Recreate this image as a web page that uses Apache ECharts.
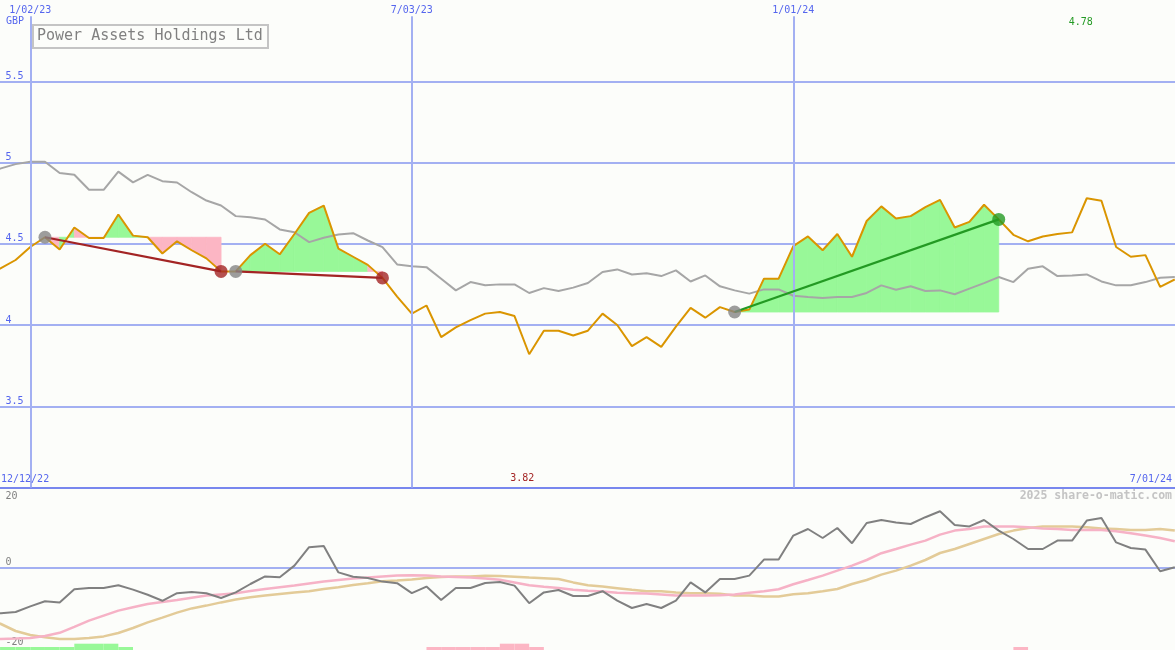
<!DOCTYPE html>
<html><head><meta charset="utf-8">
<script src="https://cdn.jsdelivr.net/npm/echarts@6/dist/echarts.min.js"></script>
<style>html,body{margin:0;padding:0;background:#fcfdfa}#c{width:1175px;height:650px}</style>
</head><body><div id="c"></div><script>
// ---------- DATA ----------
const dates = ['2022-12-12','2022-12-19','2022-12-26','2023-01-02','2023-01-09','2023-01-16','2023-01-23','2023-01-30','2023-02-06','2023-02-13','2023-02-20','2023-02-27','2023-03-06','2023-03-13','2023-03-20','2023-03-27','2023-04-03','2023-04-10','2023-04-17','2023-04-24','2023-05-01','2023-05-08','2023-05-15','2023-05-22','2023-05-29','2023-06-05','2023-06-12','2023-06-19','2023-06-26','2023-07-03','2023-07-10','2023-07-17','2023-07-24','2023-07-31','2023-08-07','2023-08-14','2023-08-21','2023-08-28','2023-09-04','2023-09-11','2023-09-18','2023-09-25','2023-10-02','2023-10-09','2023-10-16','2023-10-23','2023-10-30','2023-11-06','2023-11-13','2023-11-20','2023-11-27','2023-12-04','2023-12-11','2023-12-18','2023-12-25','2024-01-01','2024-01-08','2024-01-15','2024-01-22','2024-01-29','2024-02-05','2024-02-12','2024-02-19','2024-02-26','2024-03-04','2024-03-11','2024-03-18','2024-03-25','2024-04-01','2024-04-08','2024-04-15','2024-04-22','2024-04-29','2024-05-06','2024-05-13','2024-05-20','2024-05-27','2024-06-03','2024-06-10','2024-06-17','2024-06-24','2024-07-01'];
const price = [4.30,4.35,4.40,4.48,4.54,4.465,4.60,4.535,4.535,4.68,4.55,4.54,4.44,4.515,4.46,4.41,4.33,4.33,4.43,4.50,4.435,4.56,4.69,4.735,4.47,4.42,4.37,4.29,4.175,4.07,4.12,3.925,3.985,4.03,4.07,4.08,4.055,3.82,3.965,3.965,3.935,3.965,4.07,4.00,3.87,3.925,3.865,3.99,4.105,4.045,4.11,4.08,4.095,4.285,4.285,4.485,4.545,4.46,4.56,4.42,4.64,4.73,4.655,4.67,4.725,4.77,4.60,4.635,4.74,4.65,4.555,4.515,4.545,4.56,4.57,4.78,4.765,4.48,4.42,4.43,4.235,4.28];
const average = [4.93,4.964,4.99,5.005,5.005,4.935,4.925,4.832,4.832,4.944,4.878,4.924,4.885,4.877,4.817,4.766,4.735,4.67,4.663,4.649,4.588,4.571,4.51,4.537,4.557,4.565,4.52,4.479,4.373,4.362,4.356,4.285,4.213,4.264,4.244,4.25,4.25,4.197,4.227,4.209,4.23,4.258,4.326,4.342,4.311,4.319,4.301,4.336,4.268,4.305,4.238,4.213,4.193,4.219,4.219,4.18,4.172,4.166,4.172,4.172,4.197,4.244,4.217,4.238,4.209,4.213,4.189,4.224,4.258,4.295,4.264,4.346,4.361,4.301,4.305,4.311,4.268,4.244,4.244,4.264,4.291,4.295];
const momentum = [-11.5,-11.3,-11.0,-9.6,-8.3,-8.6,-5.3,-5.0,-5.0,-4.3,-5.4,-6.7,-8.2,-6.3,-6.0,-6.3,-7.5,-6.1,-4.0,-2.1,-2.3,0.6,5.2,5.5,-1.1,-2.2,-2.5,-3.4,-3.8,-6.3,-4.65,-8.0,-5.0,-5.0,-3.75,-3.5,-4.4,-8.8,-6.1,-5.5,-7.0,-7.0,-5.8,-8.15,-10.0,-9.0,-10.0,-8.15,-3.6,-6.1,-2.75,-2.75,-1.9,2.1,2.1,8.1,9.75,7.5,10.0,6.2,11.25,12.0,11.4,11.0,12.7,14.2,10.75,10.4,12.0,9.35,7.25,4.75,4.75,6.85,6.85,11.85,12.5,6.4,5.0,4.6,-0.8,0.2];
const momentumFast = [-17.8,-17.75,-17.65,-17.5,-17.0,-16.2,-14.7,-13.15,-11.9,-10.65,-9.8,-9.0,-8.5,-8.0,-7.45,-6.9,-6.6,-6.3,-5.75,-5.25,-4.8,-4.4,-3.9,-3.4,-3.0,-2.65,-2.4,-2.15,-1.9,-1.8,-1.9,-2.15,-2.25,-2.4,-2.6,-2.95,-3.6,-4.3,-4.7,-5.0,-5.45,-5.7,-5.9,-6.2,-6.3,-6.4,-6.65,-6.9,-6.9,-6.9,-6.8,-6.6,-6.2,-5.8,-5.3,-4.05,-3.0,-1.9,-0.65,0.6,2.0,3.7,4.75,5.85,6.85,8.35,9.35,9.75,10.4,10.4,10.4,10.2,9.9,9.75,9.5,9.5,9.5,9.2,8.7,8.1,7.5,6.7];
const momentumSlow = [-12.3,-14.0,-15.75,-16.75,-17.3,-17.75,-17.75,-17.5,-17.1,-16.25,-15.0,-13.6,-12.4,-11.15,-10.1,-9.4,-8.6,-7.9,-7.3,-6.9,-6.5,-6.15,-5.8,-5.25,-4.8,-4.25,-3.8,-3.3,-3.15,-2.9,-2.5,-2.25,-2.1,-2.1,-1.95,-2.0,-2.2,-2.4,-2.55,-2.75,-3.6,-4.3,-4.65,-5.05,-5.45,-5.8,-5.8,-6.15,-6.3,-6.3,-6.45,-6.9,-6.9,-7.1,-7.1,-6.55,-6.3,-5.8,-5.25,-4.0,-3.0,-1.65,-0.65,0.6,2.0,3.75,4.75,6.0,7.25,8.5,9.35,10.0,10.4,10.4,10.4,10.2,9.9,9.75,9.5,9.5,9.75,9.35];
const signalLevel = [1,1,1,1,1,1,2,2,2,1,0,0,0,0,0,0,0,0,0,0,0,0,0,0,0,0,0,0,0,0,-1,-1,-1,-1,-1,-2,-2,-1,0,0,0,0,0,0,0,0,0,0,0,0,0,0,0,0,0,0,0,0,0,0,0,0,0,0,0,0,0,0,0,0,-1,0,0,0,0,0,0,0,0,0,0,0];
const tradeEntryDates = ['2023-01-09','2023-04-10','2023-12-04'];
const tradeExitDates  = ['2023-04-03','2023-06-19','2024-04-08'];
const markerDates = ['2023-01-02','2023-07-03','2024-01-01'];
const priceTicks = {min: 3, max: 6, step: 0.5};
const momentumTicks = {min: -20, max: 20, step: 20};
const title = 'Power Assets Holdings Ltd';
const currency = 'GBP';
const watermark = '2025 share-o-matic.com';

// ---------- HELPERS ----------
function ts(s){const p=s.split('-').map(Number);return Date.UTC(p[0],p[1]-1,p[2]);}
function fmt(s){const p=s.split('-');return (+p[1])+'/'+p[2]+'/'+p[0].slice(2);}
const T = dates.map(ts);
const xMin = ts('2022-12-18') + 13.1*3600000;
const xMax = ts('2024-07-01') + 2.2*3600000;
const trades = tradeEntryDates.map((e,k)=>({a: dates.indexOf(e), b: dates.indexOf(tradeExitDates[k])}));
const FONT = 'DejaVu Sans Mono';
const BLUE = '#5566ee', GRID = '#a3b0f2', DIV = '#7887ee';
const GREEN_FILL = '#98f898', PINK_FILL = '#fcb6c4';
const WIN = '#239a23', LOSS = '#a32424';

let minIdx = 0, maxIdx = 0;
for (let i=1;i<price.length;i++){ if(price[i]<price[minIdx]) minIdx=i; if(price[i]>=price[maxIdx]) maxIdx=i; }

const series = [];
// trade fills
series.push({
  type:'custom', xAxisIndex:0, yAxisIndex:0, z:1, silent:true,
  data: trades.map(t=>[T[t.a], price[t.a]]),
  renderItem: function(params, api){
    const tr = trades[params.dataIndex];
    const base = price[tr.a];
    const children = [];
    for (let i=tr.a;i<tr.b;i++){
      const p0 = api.coord([T[i], price[i]]), p1 = api.coord([T[i+1], price[i+1]]);
      const b0 = api.coord([T[i], base]), b1 = api.coord([T[i+1], base]);
      const col = price[i+1] >= base ? GREEN_FILL : PINK_FILL;
      children.push({type:'polygon', shape:{points:[b0,p0,p1,b1]}, style:{fill:col, stroke:col, lineWidth:0.8}});
    }
    return {type:'group', children};
  }
});
// average
series.push({type:'line', xAxisIndex:0, yAxisIndex:0, z:3, data:T.map((t,i)=>[t,average[i]]), showSymbol:false, lineStyle:{color:'#a6a6a6', width:2}, silent:true});
// price
series.push({type:'line', xAxisIndex:0, yAxisIndex:0, z:4, data:T.map((t,i)=>[t,price[i]]), showSymbol:false, lineStyle:{color:'#da9500', width:2}, silent:true,
  markLine:{silent:true, symbol:['none','none'], animation:false,
    lineStyle:{color:GRID, width:2, type:'solid'},
    label:{show:true, position:'end', formatter:'{b}', color:BLUE, fontSize:10, fontFamily:FONT, distance:1},
    data: markerDates.map(d=>[{name:fmt(d), coord:[ts(d), 3]}, {coord:[ts(d), 5.9]}])
  },
  markPoint:{silent:true, symbol:'circle', symbolSize:1, itemStyle:{color:'rgba(0,0,0,0)'},
    label:{show:true, position:'inside', formatter:'{c}', fontSize:10, fontFamily:FONT},
    data:[
      {coord:[T[minIdx], priceTicks.min], value: price[minIdx].toFixed(2), label:{color:LOSS, offset:[-7,-9]}},
      {coord:[T[maxIdx], priceTicks.max], value: price[maxIdx].toFixed(2), label:{color:WIN, offset:[-6,22]}}
    ]
  }
});
// trade lines
trades.forEach(t=>{
  const win = price[t.b] >= price[t.a];
  series.push({type:'line', xAxisIndex:0, yAxisIndex:0, z:5, silent:true, showSymbol:false,
    data:[[T[t.a],price[t.a]],[T[t.b],price[t.b]]], lineStyle:{color: win?WIN:LOSS, width:2.2}});
});
// entry dots
series.push({type:'scatter', xAxisIndex:0, yAxisIndex:0, z:6, silent:true, symbolSize:13,
  data: trades.map(t=>[T[t.a],price[t.a]]), itemStyle:{color:'#858585'}});
// exit dots
series.push({type:'scatter', xAxisIndex:0, yAxisIndex:0, z:6, silent:true, symbolSize:13,
  data: trades.map(t=>({value:[T[t.b],price[t.b]], itemStyle:{color: price[t.b]>=price[t.a]?WIN:LOSS}}))});

// bottom panel
series.push({type:'custom', xAxisIndex:1, yAxisIndex:1, z:1, silent:true, clip:false,
  data: T.map((t,i)=>[t, signalLevel[i]]),
  renderItem: function(params, api){
    const i = params.dataIndex;
    const lv = signalLevel[i];
    if (!lv || i+1>=T.length) return null;
    const a = api.coord([T[i], -20.5]), b = api.coord([T[i+1], -20.5]);
    const h = Math.abs(lv)===2 ? 6.3 : 3;
    return {type:'rect', shape:{x:a[0], y:a[1]-h, width:b[0]-a[0], height:h}, style:{fill: lv>0?GREEN_FILL:PINK_FILL}};
  }
});
series.push({type:'line', xAxisIndex:1, yAxisIndex:1, z:3, data:T.map((t,i)=>[t,momentumSlow[i]]), showSymbol:false, lineStyle:{color:'#e3cb98', width:2.5}, silent:true});
series.push({type:'line', xAxisIndex:1, yAxisIndex:1, z:3, data:T.map((t,i)=>[t,momentumFast[i]]), showSymbol:false, lineStyle:{color:'#f6b2c6', width:2.5}, silent:true});
series.push({type:'line', xAxisIndex:1, yAxisIndex:1, z:4, data:T.map((t,i)=>[t,momentum[i]]), showSymbol:false, lineStyle:{color:'#808080', width:2}, silent:true, clip:false,
  markLine:{silent:true, symbol:['none','none'], animation:false, label:{show:false},
    lineStyle:{color:GRID, width:2, type:'solid'},
    data: markerDates.map(d=>[{coord:[ts(d), -20.5]}, {coord:[ts(d), 20]}])
  }
});

const option = {
  animation:false,
  backgroundColor:'#fcfdfa',
  grid:[
    {left:0, right:0, top:-1, height:488.5},
    {left:0, right:0, top:488, height:160}
  ],
  xAxis:[
    {type:'time', gridIndex:0, min:xMin, max:xMax, axisLabel:{show:false}, axisTick:{show:false}, splitLine:{show:false},
      axisLine:{show:true, onZero:false, lineStyle:{color:DIV, width:2}}},
    {type:'time', gridIndex:1, min:xMin, max:xMax, axisLabel:{show:false}, axisTick:{show:false}, splitLine:{show:false}, axisLine:{show:false}}
  ],
  yAxis:[
    {type:'value', gridIndex:0, min:priceTicks.min, max:priceTicks.max, interval:priceTicks.step,
      axisLine:{show:false}, axisTick:{show:false},
      splitLine:{show:true, showMaxLine:false, lineStyle:{color:GRID, width:2}},
      axisLabel:{inside:true, margin:5.5, color:BLUE, fontSize:10, fontFamily:FONT, verticalAlign:'bottom', showMinLabel:false, showMaxLabel:false}},
    {type:'value', gridIndex:1, min:momentumTicks.min, max:momentumTicks.max, interval:momentumTicks.step,
      axisLine:{show:false}, axisTick:{show:false},
      splitLine:{show:true, lineStyle:{color:['rgba(0,0,0,0)', GRID, 'rgba(0,0,0,0)'], width:2}},
      axisLabel:{inside:true, margin:5.5, color:'#808080', fontSize:10, fontFamily:FONT, verticalAlign:'middle',
        formatter: v => v===momentumTicks.max ? '{d|'+v+'}' : '{u|'+v+'}',
        rich:{d:{padding:[17,0,0,0], color:'#808080', fontSize:10, fontFamily:FONT}, u:{padding:[0,0,12,0], color:'#808080', fontSize:10, fontFamily:FONT}}}}
  ],
  graphic:[
    {type:'rect', shape:{x:33, y:25, width:235, height:23}, style:{fill:'rgba(0,0,0,0)', stroke:'#c4c4c4', lineWidth:2}, z:10},
    {type:'text', x:37, y:36.5, style:{text:title, fill:'#808080', font:'15px "DejaVu Sans Mono"', textVerticalAlign:'middle'}, z:10},
    {type:'text', x:6, y:21, style:{text:currency, fill:BLUE, font:'10px "DejaVu Sans Mono"', textVerticalAlign:'middle'}, z:10},
    {type:'text', x:1, y:479, style:{text:fmt(dates[0]), fill:BLUE, font:'10px "DejaVu Sans Mono"', textVerticalAlign:'middle'}, z:10},
    {type:'text', x:1172, y:479, style:{text:fmt(dates[dates.length-1]), fill:BLUE, font:'10px "DejaVu Sans Mono"', textAlign:'right', textVerticalAlign:'middle'}, z:10},
    {type:'text', x:1172, y:496, style:{text:watermark, fill:'#c4c4c4', font:'bold 11.5px "DejaVu Sans Mono"', textAlign:'right', textVerticalAlign:'middle'}, z:10}
  ],
  series
};
const chart = echarts.init(document.getElementById('c'), null, {renderer:'canvas'});
chart.setOption(option);
</script></body></html>
